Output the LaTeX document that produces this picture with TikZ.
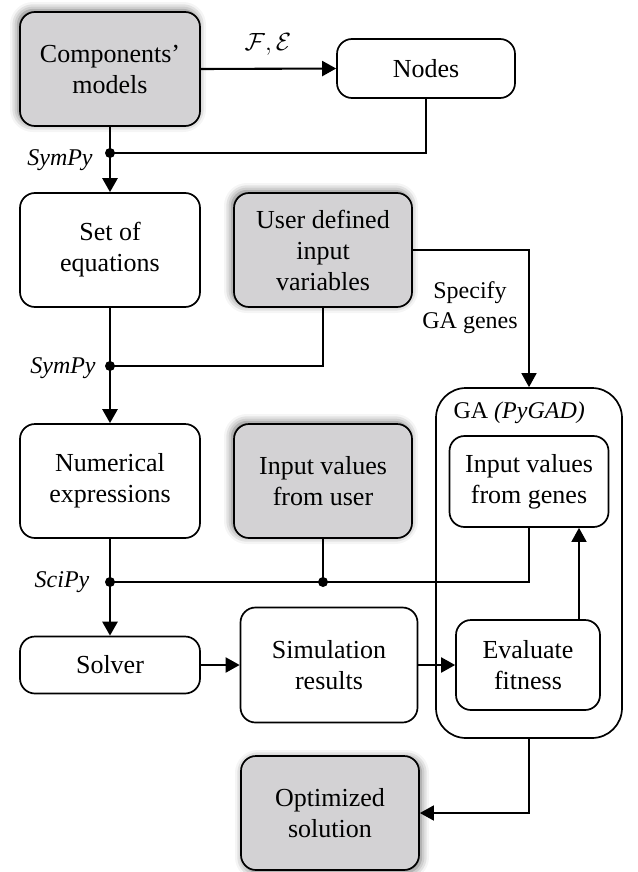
\documentclass[tikz,border=0pt]{standalone}
\usepackage{amsmath}
\usepackage{fontspec}
\setmainfont{Liberation Serif}
\usepackage{xcolor}
\usetikzlibrary{arrows.meta,shadows.blur}
\definecolor{boxgray}{RGB}{211,210,212}

\begin{document}
\begin{tikzpicture}[x=1pt,y=-1pt,
  box/.style={draw,line width=1.7pt,rounded corners=15pt,align=center,inner sep=0pt,font=\fontsize{26}{31}\selectfont},
  userbox/.style={box,fill=boxgray,blur shadow={shadow xshift=-2pt,shadow yshift=2pt,shadow blur radius=8pt,shadow opacity=60}},
  lbl/.style={font=\fontsize{24}{30}\selectfont},
  link/.style={line width=1.6pt},
  mid/.style={line width=2.1pt},
  trunk/.style={line width=2.6pt},
  tip/.style={-{Triangle[length=14pt,width=15pt]}},
  dot/.style={circle,fill,inner sep=0pt,minimum size=10pt}]
\useasboundingbox (0,0) rectangle (637,872);
\node[userbox,minimum width=180pt,minimum height=114pt] (comp) at (110,69) {Components’\\models};
\node[box,minimum width=178pt,minimum height=59pt] (nodes) at (426,68.5) {Nodes};
\node[box,minimum width=180pt,minimum height=114pt] (eqs) at (110,250) {Set of\\equations};
\node[userbox,minimum width=178pt,minimum height=114pt] (uvars) at (323,250) {User defined\\input\\variables};
\node[box,minimum width=180pt,minimum height=114pt] (numexp) at (110,481) {Numerical\\expressions};
\node[userbox,minimum width=178pt,minimum height=114pt] (uvals) at (323,481) {Input values\\from user};
\node[draw,line width=1.7pt,rounded corners=30pt,minimum width=186pt,minimum height=350pt] (ga) at (529,563) {};
\node[lbl,anchor=west] (galbl) at (450,413) {GA \textit{(PyGAD)}};
\node[box,minimum width=159pt,minimum height=91pt] (genes) at (529,481.5) {Input values\\from genes};
\node[box,minimum width=180pt,minimum height=57pt] (solver) at (110,665) {Solver};
\node[box,minimum width=177pt,minimum height=115pt] (sim) at (329,665) {Simulation\\results};
\node[box,minimum width=144pt,minimum height=90pt] (fit) at (528,665) {Evaluate\\fitness};
\node[box,fill=boxgray,blur shadow={shadow xshift=2pt,shadow yshift=-2pt,shadow blur radius=8pt,shadow opacity=60},
  minimum width=178pt,minimum height=114pt] (opt) at (330,813) {Optimized\\solution};
\node[dot] (d1) at (110,153) {};
\node[dot] (d2) at (110,366) {};
\node[dot] (d3) at (110,582) {};
\node[dot] (d4) at (323,582) {};
\node[font=\fontsize{25}{30}\selectfont] (fe) at (268,44) {$\mathcal{F},\mathcal{E}$};
\node[lbl] (sym1) at (60,160) {\textit{SymPy}};
\node[lbl] (sym2) at (63,368) {\textit{SymPy}};
\node[lbl] (sci) at (62,582) {\textit{SciPy}};
\node[lbl,align=center] (spec) at (470,308) {Specify\\GA genes};
\draw[mid,tip] (comp.east) -- (nodes.west);
\draw[link] (comp.south) -- (d1.center);
\draw[link] (nodes.south) |- (d1.center);
\draw[trunk,tip] (d1.center) -- (eqs.north);
\draw[link] (eqs.south) -- (d2.center);
\draw[link] (uvars.south) |- (d2.center);
\draw[trunk,tip] (d2.center) -- (numexp.north);
\draw[link] (numexp.south) -- (d3.center);
\draw[link] (uvals.south) -- (d4.center);
\draw[trunk] (d3.center) -- (d4.center);
\draw[link] (d4.center) -| (genes.south);
\draw[trunk,tip] (d3.center) -- (solver.north);
\draw[link,tip] (uvars.east) -| (ga.north);
\draw[mid,tip] (solver.east) -- (sim.west);
\draw[mid,tip] (sim.east) -- (fit.west);
\draw[link,tip] ([xshift=51pt]fit.north) -- ([xshift=50pt]genes.south);
\draw[link,tip] (ga.south) |- (opt.east);
\end{tikzpicture}
\end{document}
